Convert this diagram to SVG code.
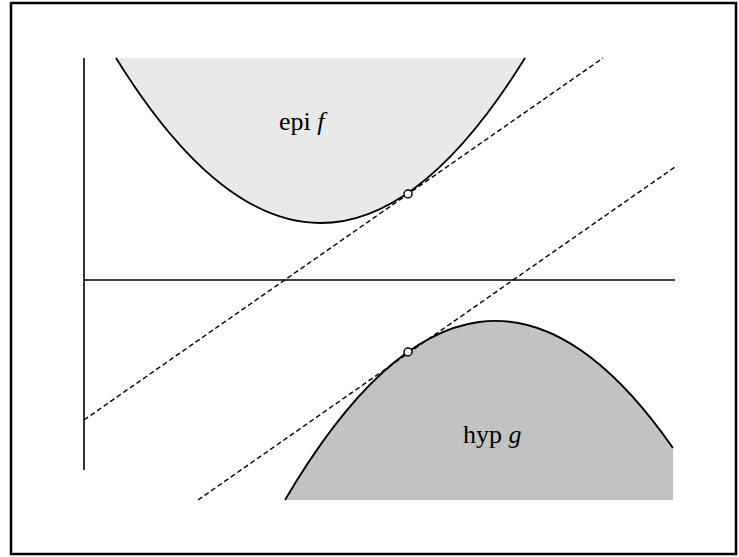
<svg xmlns="http://www.w3.org/2000/svg" width="739" height="557" viewBox="0 0 739 557">
<style>
.frame{fill:none;stroke:#000;stroke-width:2.5}
.axis{stroke:#000;stroke-width:1.6;fill:none}
.curve{fill:none;stroke:#000;stroke-width:1.8}
.tangent{stroke:#000;stroke-width:1.4;stroke-dasharray:5 3;fill:none}
.pt{fill:#fff;stroke:#000;stroke-width:1.5}
.lbl{font-family:"Liberation Serif","Times New Roman",serif;font-size:26px;fill:#000}
</style>
<rect width="739" height="557" fill="#fff"/>
<rect class="frame" x="11" y="3" width="725" height="551"/>
<g id="epi-f">
<path d="M116,58 Q320.5,388 525,58 Z" fill="#e9e9e9"/>
<path class="curve" d="M116,58 Q320.5,388 525,58"/>
<text class="lbl" x="279" y="130">epi <tspan font-style="italic">f</tspan></text>
</g>
<g id="hyp-g">
<path d="M285,500 Q479,170 673,448 L673,500 Z" fill="#c2c2c2"/>
<path class="curve" d="M285,500 Q479,170 673,448"/>
<text class="lbl" x="463" y="443">hyp <tspan font-style="italic">g</tspan></text>
</g>
<g id="axes">
<line class="axis" x1="84" y1="58" x2="84" y2="470"/>
<line class="axis" x1="84" y1="280" x2="675" y2="280"/>
</g>
<g id="connectors">
<line class="tangent" x1="84" y1="420" x2="603" y2="58"/>
<line class="tangent" x1="198" y1="500" x2="675" y2="167"/>
</g>
<g id="points">
<circle class="pt" cx="408" cy="194" r="4"/>
<circle class="pt" cx="408" cy="352" r="4"/>
</g>
</svg>
